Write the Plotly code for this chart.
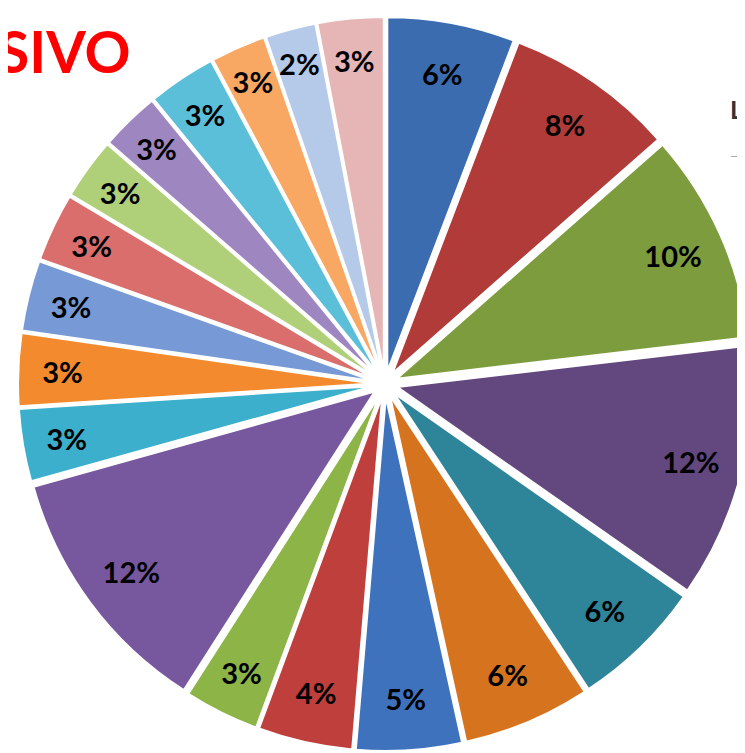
import plotly.graph_objects as go

labels = ["A", "B", "C", "D", "E", "F", "G", "H", "I", "J",
          "K", "L", "M", "N", "O", "P", "Q", "R", "S", "T"]
# slice sizes (percent)
values = [5.8, 7.7, 9.6, 11.6, 6.0, 5.8, 4.8, 4.3, 3.4, 11.6,
          3.3, 3.3, 3.2, 3.1, 2.8, 2.7, 3.1, 2.5, 2.3, 3.0]
# percentages printed on the slices
shown_pct = [6, 8, 10, 12, 6, 6, 5, 4, 3, 12,
             3, 3, 3, 3, 3, 3, 3, 3, 2, 3]
text_labels = [f"{p}%" for p in shown_pct]
colors = ["#3A6CAF", "#B03B38", "#7D9C3D", "#62487F", "#2E8499",
          "#D6731F", "#3E72BD", "#BE3F3C", "#8DB446", "#77579E",
          "#3BAFCB", "#F38A2D", "#7799D5", "#D96E6C", "#B0CF79",
          "#9E86C0", "#5CBFD9", "#F8A862", "#B5C9E8", "#E6B5B5"]

pull = 0.036
k = 0.0165  # text ring domain inset

fig = go.Figure()
fig.add_trace(go.Pie(
    labels=labels, values=values, sort=False, direction="clockwise",
    rotation=0, pull=pull, domain=dict(x=[0, 1], y=[0, 1]),
    marker=dict(colors=colors, line=dict(color="#FFFFFF", width=2)),
    textinfo="none", hoverinfo="skip", showlegend=False,
))
fig.add_trace(go.Pie(
    labels=labels, values=values, sort=False, direction="clockwise",
    rotation=0, pull=pull, domain=dict(x=[k, 1 - k], y=[k, 1 - k]),
    hole=0.77,
    marker=dict(colors=["rgba(0,0,0,0)"] * len(values),
                line=dict(color="rgba(0,0,0,0)", width=0)),
    text=text_labels, textinfo="text", textposition="inside",
    insidetextorientation="horizontal",
    textfont=dict(family="Lato", size=30, color="#000000", weight="bold"),
    hoverinfo="skip", showlegend=False,
))

fig.add_annotation(text="<b>SIVO</b>", xref="paper", yref="paper",
                   x=-0.022, y=1.0, xanchor="left", yanchor="top",
                   xshift=-6, yshift=2, showarrow=False,
                   font=dict(family="Lato", size=57, color="#FF0000"))
fig.add_annotation(text="<b>L</b>", xref="paper", yref="paper",
                   x=1.0, y=0.875, xanchor="left", yanchor="middle",
                   xshift=-24, showarrow=False,
                   font=dict(family="Lato", size=25, color="#333333"))
fig.add_annotation(text="—", xref="paper", yref="paper",
                   x=1.0, y=0.812, xanchor="left", yanchor="middle",
                   xshift=-24, showarrow=False,
                   font=dict(family="Lato", size=16, color="#AAAAAA"))

fig.update_layout(
    width=745, height=753,
    margin=dict(l=10, r=1, t=9, b=10),
    paper_bgcolor="#FFFFFF", plot_bgcolor="#FFFFFF",
    uniformtext=dict(minsize=29, mode="show"),
)
fig.write_html("out.html")
